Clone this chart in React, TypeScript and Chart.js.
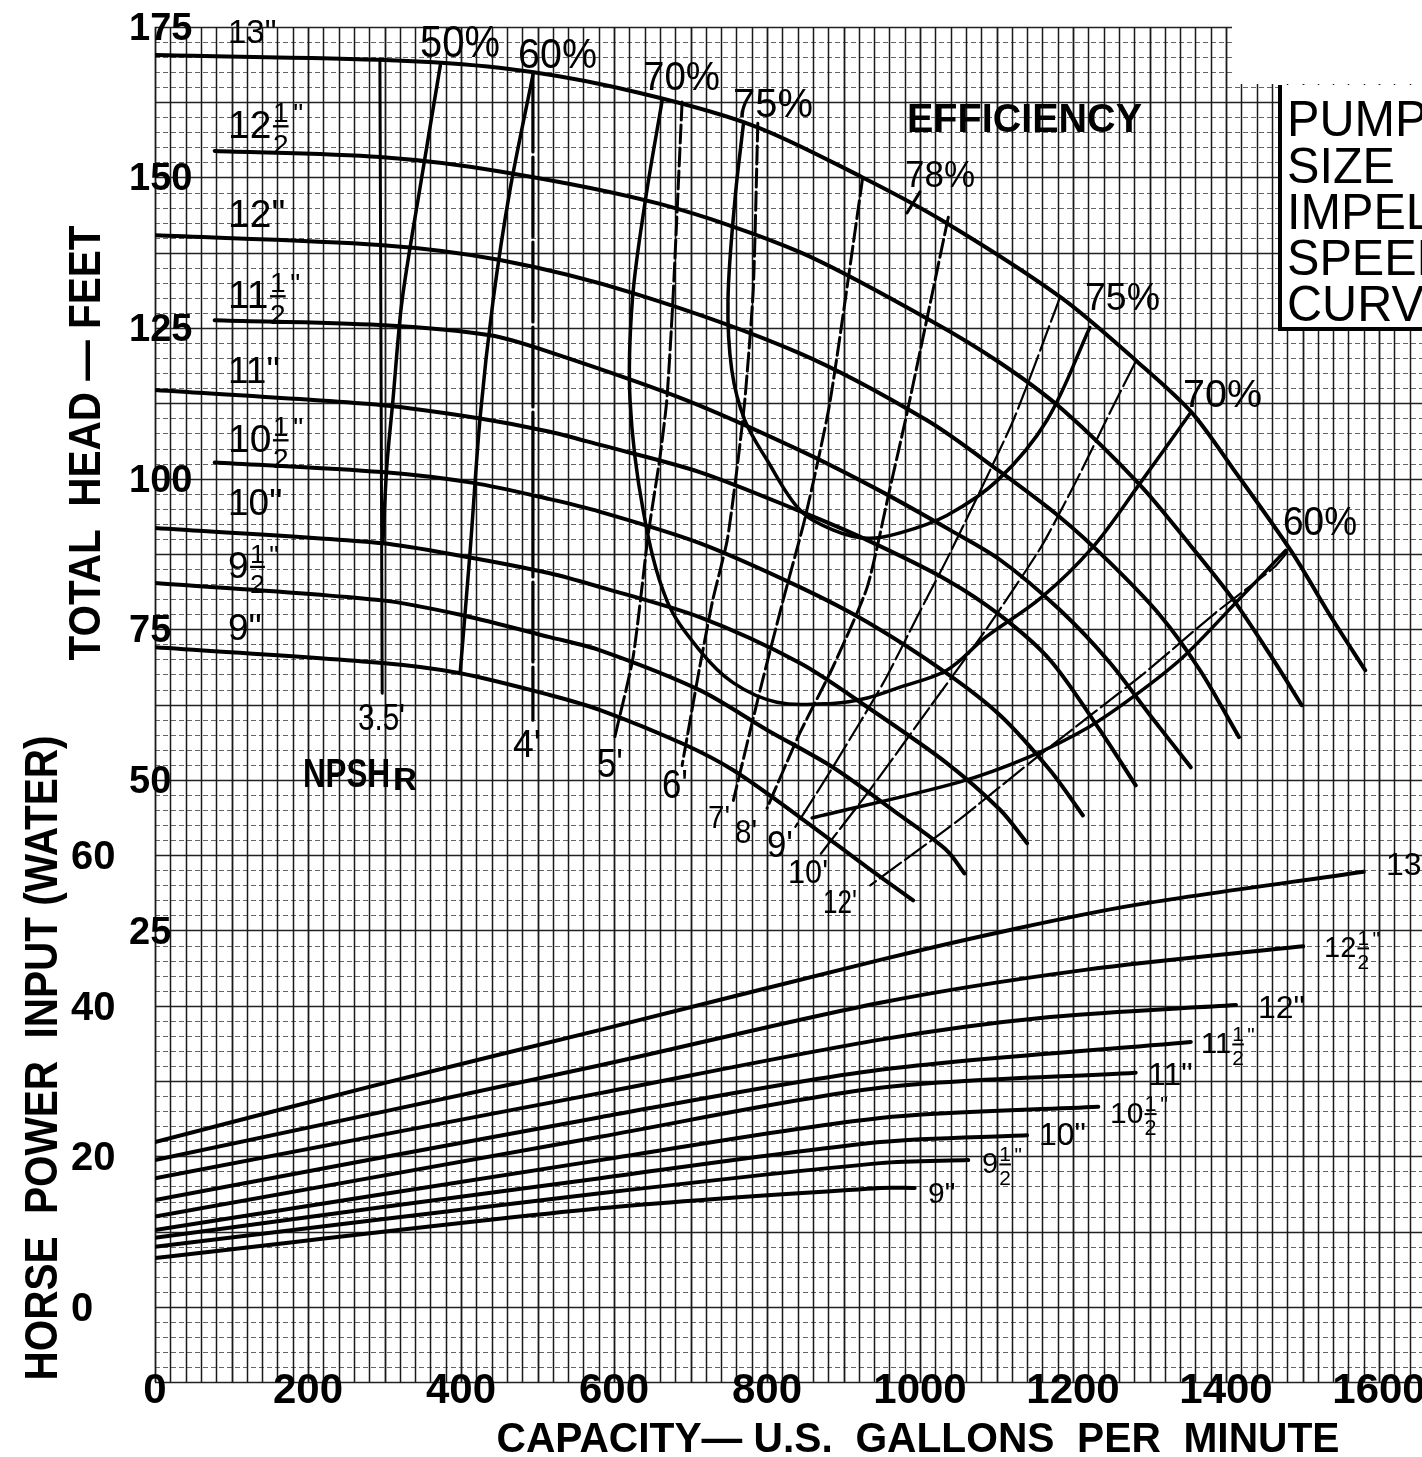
import React, { useEffect, useRef } from "react";
import { Chart, registerables } from "chart.js";
Chart.register(...registerables);

const W = 1422;
const H = 1457;
const FONT = '"Liberation Sans", Arial, Helvetica, sans-serif';

// ---------- Head-capacity curves (gpm, ft) ----------
const q13 = [0, 300, 450, 600, 780, 925, 1035, 1185, 1285, 1355, 1410, 1485, 1540, 1582];
const h13 = [170.3, 169.5, 168.2, 165.0, 158.7, 150.0, 142.4, 130.0, 119.3, 111.0, 101.5, 88.0, 76.5, 68.2];
const q125 = [78, 294, 451, 660, 843, 1013, 1105, 1187, 1288, 1353, 1409, 1458, 1499];
const h125 = [154.4, 153.4, 151.0, 145.6, 137.6, 126.3, 119.2, 111.4, 98.9, 89.0, 80.0, 70.7, 62.4];
const q12 = [0, 294, 451, 625, 843, 1009, 1102, 1183, 1248, 1314, 1366, 1417];
const h12 = [140.4, 138.8, 136.3, 130.8, 120.8, 109.7, 101.4, 93.6, 86.1, 77.3, 68.2, 57.1];
const q115 = [78, 294, 438, 516, 695, 843, 946, 1039, 1105, 1183, 1248, 1301, 1354];
const h115 = [126.3, 125.5, 123.8, 121.0, 113.0, 104.7, 98.1, 91.5, 86.5, 78.2, 69.5, 60.7, 52.1];
const q11 = [0, 297, 425, 516, 582, 712, 843, 931, 1035, 1105, 1170, 1235, 1282];
const h11 = [114.7, 112.2, 110.0, 107.8, 105.6, 101.1, 94.6, 89.8, 83.2, 77.3, 69.9, 58.3, 49.1];
const q105 = [78, 297, 416, 516, 582, 712, 843, 931, 1035, 1105, 1170, 1213];
const h105 = [102.7, 101.1, 99.3, 96.6, 94.5, 89.3, 82.0, 76.2, 67.7, 60.7, 51.6, 44.1];
const q10 = [0, 297, 408, 516, 582, 712, 843, 931, 1035, 1105, 1140];
const h10 = [91.8, 89.3, 87.0, 84.3, 82.0, 77.0, 69.4, 62.1, 52.8, 45.0, 39.5];
const q95 = [0, 297, 403, 516, 582, 712, 800, 886, 974, 1035, 1058];
const h95 = [82.7, 79.8, 77.3, 73.7, 71.5, 64.9, 58.3, 52.1, 44.1, 38.3, 34.5];
const q9 = [0, 297, 399, 516, 582, 690, 756, 843, 931, 991];
const h9 = [72.0, 69.4, 67.7, 64.1, 61.6, 56.0, 51.6, 43.8, 35.5, 30.0];

// ---------- Efficiency contours (gpm, ft) ----------
const qE50 = [373, 348, 323, 311, 303, 298];
const hE50 = [168.6, 149.5, 129.6, 113.0, 102.0, 89.6];
const qE60L = [494, 464, 442, 425, 412, 399];
const hE60L = [167.0, 147.9, 129.6, 110.2, 88.1, 67.9];
const qE70 = [663, 641, 624, 621, 638, 669, 712, 756, 813, 886, 931, 974, 1035, 1086, 1158, 1225, 1288, 1353];
const hE70 = [162.8, 146.2, 129.6, 113.0, 94.8, 79.8, 71.5, 66.1, 62.9, 62.7, 63.6, 65.4, 68.2, 73.7, 80.2, 88.5, 99.3, 110.8];
const qE75 = [769, 758, 749, 754, 771, 800, 843, 886, 931, 974, 1035, 1102, 1166, 1222];
const hE75 = [158.7, 146.2, 129.6, 118.0, 109.7, 103.1, 94.8, 91.5, 90.1, 91.0, 93.9, 99.8, 109.7, 125.1];
const qE60R = [859, 1050, 1142, 1221, 1282, 1344, 1412, 1478];
const hE60R = [43.7, 49.6, 53.8, 58.8, 64.1, 70.4, 79.3, 88.1];
const qE78 = [983, 1000];
const hE78 = [144.1, 147.6];

// ---------- NPSH required curves (gpm, ft) ----------
const qN35 = [294, 297];
const hN35 = [169.6, 64.4];
const qN4 = [494, 494];
const hN4 = [167.5, 59.9];
const qN5 = [689, 677, 669, 660, 645, 625, 601];
const hN5 = [162.5, 129.6, 113.0, 103.5, 91.0, 70.4, 57.1];
const qN6 = [788, 782, 771, 761, 748, 729, 712, 689];
const hN6 = [159.0, 131.3, 113.0, 101.9, 89.8, 79.8, 68.7, 52.4];
const qN7 = [925, 882, 850, 821, 791, 756];
const hN7 = [149.9, 112.5, 93.6, 79.8, 64.9, 46.6];
const qN8 = [1037, 983, 960, 931, 886, 843, 800];
const hN8 = [143.4, 110.9, 98.0, 82.0, 68.7, 57.8, 45.3];
const qN9 = [1183, 1122, 1039, 996, 952, 886, 837];
const hN9 = [130.1, 109.7, 87.6, 77.0, 66.1, 52.1, 42.2];
const qN10 = [1281, 1248, 1205, 1158, 1086, 1013, 936, 867];
const hN10 = [119.2, 110.9, 99.8, 88.6, 74.9, 62.1, 48.6, 37.2];
const qN12 = [1480, 1463, 1386, 1293, 1153, 1050, 935];
const hN12 = [87.8, 85.3, 77.7, 67.7, 53.8, 43.3, 32.5];

// ---------- Horse power curves (gpm, hp) ----------
const qP13 = [0, 298, 582, 948, 1128, 1282, 1580];
const pP13 = [21.9, 29.7, 36.8, 46.1, 50.3, 53.4, 57.8];
const qP125 = [0, 582, 948, 1218, 1501];
const pP125 = [19.5, 32.1, 40.4, 44.8, 47.9];
const qP12 = [0, 582, 948, 1170, 1413];
const pP12 = [17.1, 28.4, 35.5, 38.5, 40.1];
const qP115 = [0, 582, 948, 1354];
const pP115 = [14.2, 25.2, 31.5, 35.2];
const qP11 = [0, 582, 948, 1282];
const pP11 = [12.0, 22.6, 29.1, 31.1];
const qP105 = [0, 582, 948, 1233];
const pP105 = [10.2, 19.5, 25.1, 26.6];
const qP10 = [0, 582, 948, 1140];
const pP10 = [9.2, 17.1, 21.9, 22.8];
const qP95 = [0, 582, 948, 1063];
const pP95 = [8.0, 15.1, 19.1, 19.5];
const qP9 = [0, 582, 948, 993];
const pP9 = [6.5, 13.1, 15.8, 15.8];

// ---------- Tick labels ----------
const xTicks = [0, 200, 400, 600, 800, 1000, 1200, 1400, 1600];
const headTicks = [175, 150, 125, 100, 75, 50, 25];
const hpTicks = [60, 40, 20, 0];

function ds(qs: number[], vs: number[], axis: string, width: number, dash: number[] = [], tension = 0.3) {
  return {
    data: qs.map((q, i) => ({ x: q, y: vs[i] })),
    yAxisID: axis,
    borderColor: "#000",
    borderWidth: width,
    borderDash: dash,
    pointRadius: 0,
    tension,
    fill: false,
    borderCapStyle: "round",
    borderJoinStyle: "round",
  } as any;
}

function fit(ctx: CanvasRenderingContext2D, s: string, x: number, y: number, size: number, o: any = {}) {
  const { bold = false, align = "left", width = 0 } = o;
  ctx.font = `${bold ? "bold " : ""}${size}px ${FONT}`;
  ctx.textAlign = align;
  ctx.textBaseline = "alphabetic";
  const nw = ctx.measureText(s).width;
  const sx = width ? width / nw : 1;
  ctx.save();
  ctx.translate(x, y);
  ctx.scale(sx, 1);
  ctx.fillText(s, 0, 0);
  ctx.restore();
}

function frac(ctx: CanvasRenderingContext2D, whole: string, x: number, y: number, size: number, bold = false) {
  const b = bold ? "bold " : "";
  ctx.textAlign = "left";
  ctx.textBaseline = "alphabetic";
  ctx.font = `${b}${size}px ${FONT}`;
  ctx.fillText(whole, x, y);
  const ww = ctx.measureText(whole).width;
  const fs = size * 0.72;
  ctx.font = `${b}${fs}px ${FONT}`;
  const fw = ctx.measureText("2").width;
  const fx = x + ww + size * 0.04;
  const w1 = ctx.measureText("1").width;
  ctx.fillText("1", fx + (fw - w1) / 2, y - size * 0.4);
  ctx.fillRect(fx, y - size * 0.33, fw, Math.max(2, size * 0.06));
  ctx.fillText("2", fx, y + size * 0.4);
  ctx.fillText('"', fx + fw + size * 0.12, y - size * 0.38);
}

function rotText(ctx: CanvasRenderingContext2D, s: string, cx: number, cy: number, size: number, width: number) {
  ctx.save();
  ctx.translate(cx, cy);
  ctx.rotate(-Math.PI / 2);
  fit(ctx, s, 0, size * 0.36, size, { bold: true, align: "center", width });
  ctx.restore();
}

const paper = {
  id: "paper",
  beforeDraw(chart: any) {
    const ctx = chart.ctx;
    ctx.save();
    ctx.fillStyle = "#fff";
    ctx.fillRect(0, 0, chart.width, chart.height);
    ctx.restore();
  },
  beforeDatasetsDraw(chart: any) {
    const ctx: CanvasRenderingContext2D = chart.ctx;
    const xs = chart.scales.x;
    const y2 = chart.scales.y2;
    const top = y2.getPixelForValue(170);
    const bot = y2.getPixelForValue(-10);
    const left = xs.getPixelForValue(0);
    const right = chart.width;
    ctx.save();
    for (let v = -10; v <= 170; v += 2) {
      const py = Math.round(y2.getPixelForValue(v)) + 0.5;
      ctx.beginPath();
      if (v % 10 === 0) {
        ctx.setLineDash([]);
        ctx.strokeStyle = "#222";
        ctx.lineWidth = 1.4;
      } else {
        ctx.setLineDash([5, 3]);
        ctx.strokeStyle = "#666";
        ctx.lineWidth = 1;
      }
      ctx.moveTo(left, py);
      ctx.lineTo(right, py);
      ctx.stroke();
    }
    ctx.setLineDash([]);
    for (let q = 0; q <= 1660; q += 20) {
      const px = Math.round(xs.getPixelForValue(q)) + 0.5;
      if (px > right) break;
      ctx.beginPath();
      ctx.strokeStyle = "#1a1a1a";
      ctx.lineWidth = q % 100 === 0 ? 1.8 : 1.5;
      ctx.moveTo(px, top);
      ctx.lineTo(px, bot);
      ctx.stroke();
    }
    ctx.fillStyle = "#fff";
    ctx.fillRect(1232, 0, W - 1232, 84);
    ctx.restore();
  },
  afterDatasetsDraw(chart: any) {
    const ctx: CanvasRenderingContext2D = chart.ctx;
    const xs = chart.scales.x;
    const ys = chart.scales.y;
    const y2 = chart.scales.y2;
    ctx.save();
    ctx.fillStyle = "#000";
    ctx.strokeStyle = "#000";

    headTicks.forEach((v) => fit(ctx, String(v), 129, ys.getPixelForValue(v) + 13, 38, { bold: true }));
    hpTicks.forEach((v) => fit(ctx, String(v), 71, y2.getPixelForValue(v) + 14, 40, { bold: true }));
    xTicks.forEach((v) => fit(ctx, String(v), xs.getPixelForValue(v), 1403, 42, { bold: true, align: "center" }));

    rotText(ctx, "TOTAL  HEAD — FEET", 84, 443, 44, 435);
    rotText(ctx, "HORSE  POWER  INPUT (WATER)", 40, 1058, 46, 645);
    fit(ctx, "CAPACITY— U.S.  GALLONS  PER  MINUTE", 918, 1452, 42, { bold: true, align: "center", width: 843 });

    fit(ctx, '13"', 228, 43, 33);
    frac(ctx, "12", 228, 138, 39);
    fit(ctx, '12"', 228, 227, 39);
    frac(ctx, "11", 228, 308, 39);
    fit(ctx, '11"', 228, 383, 37);
    frac(ctx, "10", 228, 452, 39);
    fit(ctx, '10"', 228, 515, 37);
    frac(ctx, "9", 228, 578, 37);
    fit(ctx, '9"', 228, 640, 37);

    fit(ctx, "50%", 420, 57, 44, { width: 80 });
    fit(ctx, "60%", 518, 68, 42, { width: 79 });
    fit(ctx, "70%", 643, 90, 40, { width: 77 });
    fit(ctx, "75%", 733, 117, 40, { width: 80 });
    fit(ctx, "78%", 905, 187, 36, { width: 70 });
    fit(ctx, "75%", 1085, 310, 38, { width: 75 });
    fit(ctx, "70%", 1183, 407, 38, { width: 79 });
    fit(ctx, "60%", 1283, 535, 40, { width: 74 });
    fit(ctx, "EFFICIENCY", 907, 132, 40, { bold: true, width: 235 });

    fit(ctx, "3.5'", 358, 730, 36, { width: 47 });
    fit(ctx, "4'", 513, 757, 38, { width: 28 });
    fit(ctx, "5'", 597, 777, 40, { width: 26 });
    fit(ctx, "6'", 662, 798, 40, { width: 26 });
    fit(ctx, "7'", 708, 828, 32, { width: 22 });
    fit(ctx, "8'", 735, 843, 34, { width: 22 });
    fit(ctx, "9'", 767, 857, 36, { width: 26 });
    fit(ctx, "10'", 788, 883, 34, { width: 40 });
    fit(ctx, "12'", 823, 913, 34, { width: 34 });
    fit(ctx, "NPSH", 303, 787, 40, { bold: true, width: 87 });
    fit(ctx, "R", 393, 790, 32, { bold: true, width: 24 });

    fit(ctx, '13"', 1386, 875, 32);
    frac(ctx, "12", 1324, 957, 29);
    fit(ctx, '12"', 1258, 1018, 32);
    frac(ctx, "11", 1201, 1053, 29);
    fit(ctx, '11"', 1148, 1085, 32);
    frac(ctx, "10", 1110, 1123, 30);
    fit(ctx, '10"', 1039, 1145, 32);
    frac(ctx, "9", 982, 1173, 29);
    fit(ctx, '9"', 928, 1203, 30);

    ctx.fillStyle = "#fff";
    ctx.fillRect(1280, 85, W - 1280, 244);
    ctx.fillStyle = "#000";
    ctx.fillRect(1278, 85, 4, 246);
    ctx.fillRect(1278, 327, W - 1278, 4);
    ctx.font = `50px ${FONT}`;
    const sx = 108 / ctx.measureText("SIZE").width;
    const lines = ["PUMP", "SIZE", "IMPELLER", "SPEED", "CURVE"];
    const base = [136, 183, 229, 275, 321];
    lines.forEach((s, i) => {
      ctx.save();
      ctx.translate(1287, base[i]);
      ctx.scale(sx, 1);
      ctx.textAlign = "left";
      ctx.fillText(s, 0, 0);
      ctx.restore();
    });
    ctx.restore();
  },
};

export default function App() {
  const ref = useRef<HTMLCanvasElement | null>(null);
  useEffect(() => {
    document.body.style.margin = "0";
    const canvas = ref.current!;
    const N1 = [18, 5];
    const N2 = [26, 5];
    const chart = new Chart(canvas, {
      type: "line",
      data: {
        datasets: [
          ds(q13, h13, "y", 4),
          ds(q125, h125, "y", 4),
          ds(q12, h12, "y", 4),
          ds(q115, h115, "y", 4),
          ds(q11, h11, "y", 4),
          ds(q105, h105, "y", 4),
          ds(q10, h10, "y", 4),
          ds(q95, h95, "y", 4),
          ds(q9, h9, "y", 4),
          ds(qE50, hE50, "y", 3.5),
          ds(qE60L, hE60L, "y", 3.5),
          ds(qE70, hE70, "y", 3.5, [], 0.35),
          ds(qE75, hE75, "y", 3.5, [], 0.35),
          ds(qE60R, hE60R, "y", 3.5),
          ds(qE78, hE78, "y", 3, [], 0),
          ds(qN35, hN35, "y", 3, [], 0),
          ds(qN4, hN4, "y", 3.2, [80, 5], 0),
          ds(qN5, hN5, "y", 3, N1, 0.2),
          ds(qN6, hN6, "y", 3, N1, 0.2),
          ds(qN7, hN7, "y", 3, N1, 0.2),
          ds(qN8, hN8, "y", 3, N1, 0.2),
          ds(qN9, hN9, "y", 2.2, N2, 0.2),
          ds(qN10, hN10, "y", 2.2, N2, 0.2),
          ds(qN12, hN12, "y", 2.2, N2, 0.2),
          ds(qP13, pP13, "y2", 4),
          ds(qP125, pP125, "y2", 4),
          ds(qP12, pP12, "y2", 4),
          ds(qP115, pP115, "y2", 4),
          ds(qP11, pP11, "y2", 4),
          ds(qP105, pP105, "y2", 4),
          ds(qP10, pP10, "y2", 4),
          ds(qP95, pP95, "y2", 4),
          ds(qP9, pP9, "y2", 4),
        ],
      },
      options: {
        responsive: false,
        maintainAspectRatio: false,
        animation: false,
        events: [],
        layout: { padding: { left: 155, right: 0, top: 25, bottom: 74 } },
        plugins: { legend: { display: false }, tooltip: { enabled: false } },
        scales: {
          x: { type: "linear", min: 0, max: 1656.2, display: false },
          y: { type: "linear", min: -50.1, max: 175.3, display: false },
          y2: { type: "linear", min: -10.1, max: 170.25, display: false },
        },
      },
      plugins: [paper],
    } as any);
    return () => chart.destroy();
  }, []);
  return (
    <div style={{ width: W, height: H }}>
      <canvas ref={ref} width={W} height={H} style={{ width: W, height: H, display: "block" }} />
    </div>
  );
}
